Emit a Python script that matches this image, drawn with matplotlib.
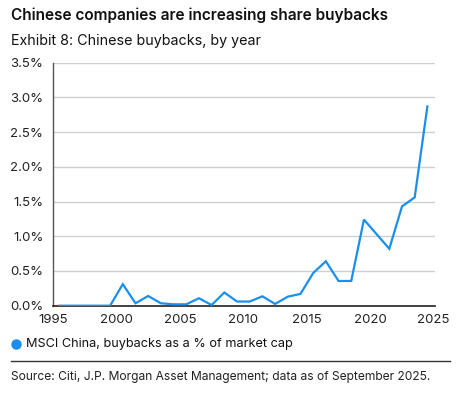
import matplotlib
matplotlib.use("Agg")
import matplotlib.pyplot as plt
from matplotlib.lines import Line2D
import numpy as np

plt.rcParams['font.family'] = ['Inter', 'DejaVu Sans']

years = list(range(1995, 2025))
buybacks = [0.0, 0.0, 0.0, 0.0, 0.0, 0.31, 0.035, 0.14, 0.035, 0.02,
            0.02, 0.107, 0.01, 0.19, 0.06, 0.06, 0.135, 0.025, 0.13, 0.17,
            0.47, 0.64, 0.356, 0.356, 1.24, 1.03, 0.82, 1.43, 1.56, 2.87]
yticks = [0.0, 0.5, 1.0, 1.5, 2.0, 2.5, 3.0, 3.5]
xticks = [1995, 2000, 2005, 2010, 2015, 2020, 2025]

W, H = 463, 399
fig = plt.figure(figsize=(W / 100, H / 100), dpi=100)
fig.patch.set_facecolor('white')

ax = fig.add_axes([53 / W, 1 - 305.7 / H, (435 - 53) / W, (305.7 - 62.7) / H])
blue = '#1A8FEF'
x = np.array(years) + 0.5
ax.plot(x, buybacks, color=blue, lw=1.6, zorder=3, solid_joinstyle='miter')

ax.set_xlim(1995, 2025.1)
ax.set_ylim(0, 3.5)
ax.set_yticks(yticks)
ax.set_yticklabels([f"{v:.1f}%" for v in yticks])
ax.set_xticks(xticks)
ax.set_xticklabels([str(v) for v in xticks])
ax.tick_params(axis='both', length=0, labelsize=9.5, colors='#222222')
ax.tick_params(axis='x', pad=6)
ax.tick_params(axis='y', pad=7)
ax.grid(axis='y', color='#D0D0D0', lw=1.0)
ax.set_axisbelow(True)
for s in ['top', 'right']:
    ax.spines[s].set_visible(False)
ax.spines['left'].set_color('#555555')
ax.spines['left'].set_linewidth(1.0)
ax.spines['bottom'].set_color('#222222')
ax.spines['bottom'].set_linewidth(1.2)

fig.text(11 / W, 1 - 15 / H, "Chinese companies are increasing share buybacks",
         fontsize=11.1, fontweight='semibold', va='center', ha='left', color='#111111')
fig.text(11 / W, 1 - 41 / H, "Exhibit 8: Chinese buybacks, by year",
         fontsize=10.3, va='center', ha='left', color='#111111')

fig.add_artist(Line2D([16 / W], [1 - 344 / H], marker='o', markersize=6.5,
                      color=blue, transform=fig.transFigure))
fig.text(26 / W, 1 - 344 / H, "MSCI China, buybacks as a % of market cap",
         fontsize=9.15, va='center', ha='left', color='#111111')
fig.add_artist(Line2D([11 / W, 450 / W], [1 - 361 / H, 1 - 361 / H], color='#333333',
                      lw=1.0, transform=fig.transFigure))
fig.text(11 / W, 1 - 377 / H, "Source: Citi, J.P. Morgan Asset Management; data as of September 2025.",
         fontsize=8.65, va='center', ha='left', color='#222222')

fig.savefig("out.png", dpi=100, facecolor='white')
